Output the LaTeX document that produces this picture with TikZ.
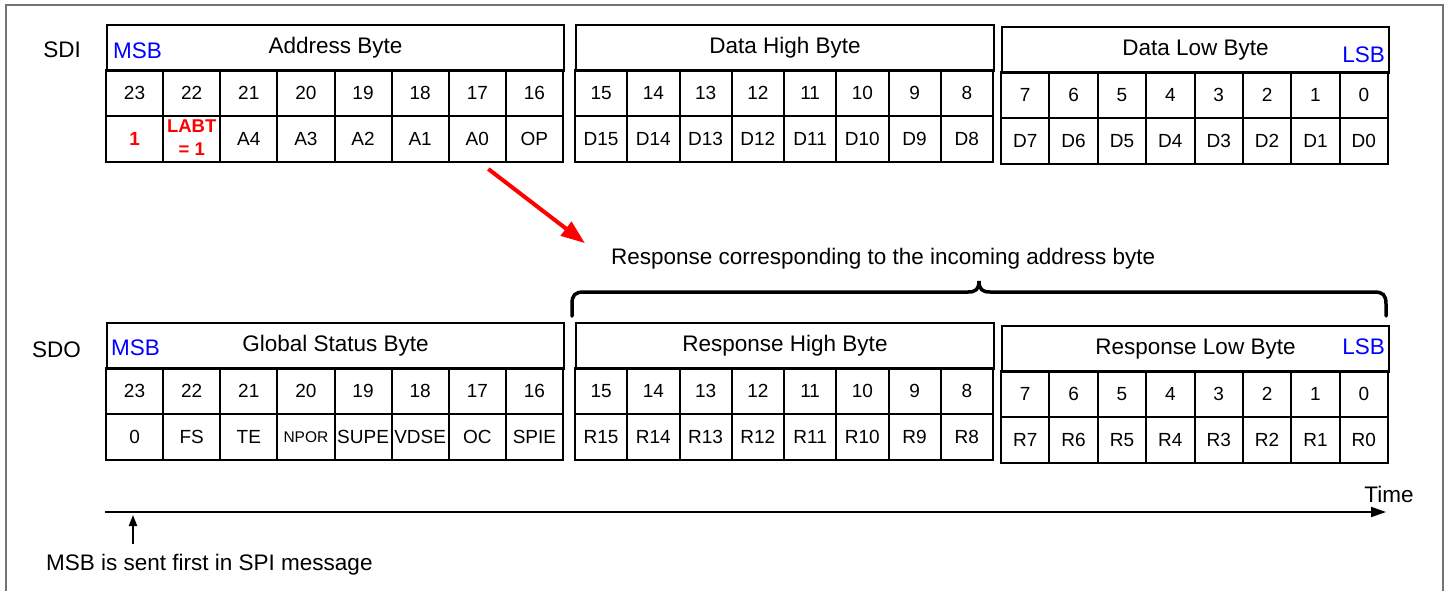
\documentclass[tikz,border=0pt]{standalone}
\usepackage{fontspec}
\setmainfont{Liberation Sans}
\usetikzlibrary{arrows.meta,positioning,calc}
\definecolor{hot}{RGB}{255,0,0}
\definecolor{msbblue}{RGB}{0,0,255}
\newcommand{\hdfont}{\fontsize{22.5}{27}\selectfont}
\newcommand{\cellfont}{\fontsize{19}{23}\selectfont}
\newcommand{\redone}{\bfseries\color{hot}1}
\newcommand{\labt}{\fontsize{18.5}{23}\selectfont\bfseries\color{hot}\begin{tabular}{@{}c@{}}LABT\\= 1\end{tabular}}
\newcommand{\npor}{\fontsize{15.5}{18}\selectfont NPOR}
% one row of eight bit cells: name, left x, centre y, cell width, texts
\newcommand{\bitrow}[5]{%
  \foreach \txt [count=\i] in {#5}
    \node[cell,minimum width=#4pt] (#1-\i) at ({#2+(\i-0.5)*#4},#3) {\txt};%
}
\tikzset{
  cell/.style={draw,line width=2pt,inner sep=0pt,minimum height=46pt,align=center,font=\cellfont},
  head/.style={draw,line width=2pt,inner sep=0pt,minimum height=46pt,anchor=north west,font=\hdfont},
  lbl/.style={inner sep=0pt,font=\hdfont},
  bitend/.style={lbl,text=msbblue},
  frame/.style={draw=black!55,line width=1.5pt},
  timeline/.style={line width=2pt,-{Triangle[length=15pt,width=10pt]}},
  upmark/.style={line width=2pt,-{Triangle[length=11pt,width=8pt]},shorten >=3pt},
  hotarrow/.style={hot,line width=4pt,-{Triangle[length=24pt,width=17pt]}},
  curly/.style={line width=3.5pt,line cap=round},
}

\begin{document}
\begin{tikzpicture}[x=1pt,y=-1pt]
  \useasboundingbox (0,0) rectangle (1449,590);
  % frame
  \draw[frame] (6,600) -- (6,5) -- (1443,5) -- (1443,600);

  % SDI
  \node[lbl,anchor=base east] (sdi) at (81,57) {SDI};
  \node[head,minimum width=457pt] (addr) at (106,24) {Address Byte};
  \node[bitend,anchor=west] (msbI) at ($(addr.west)+(7,2.5)$) {MSB};
  \bitrow{addrbit}{106}{93}{57.125}{23,22,...,16}
  \bitrow{addrval}{106}{139}{57.125}{\redone,\labt,A4,A3,A2,A1,A0,OP}
  \node[head,minimum width=418pt] (dhigh) at (575,24) {Data High Byte};
  \bitrow{dhbit}{575}{93}{52.25}{15,14,...,8}
  \bitrow{dhval}{575}{139}{52.25}{D15,D14,D13,D12,D11,D10,D9,D8}
  \node[head,minimum width=387pt] (dlow) at (1001,26) {Data Low Byte};
  \node[bitend,anchor=east] (lsbI) at ($(dlow.east)+(-5,4.5)$) {LSB};
  \bitrow{dlbit}{1001}{95}{48.375}{7,6,...,0}
  \bitrow{dlval}{1001}{141}{48.375}{D7,D6,D5,D4,D3,D2,D1,D0}

  % response note
  \node[lbl,anchor=base west] (resp) at (611,264) {Response corresponding to the incoming address byte};
  \draw[hotarrow] ($(addrval-7.south)+(11,6)$) -- ($(resp.west)+(-26,-15)$);
  \draw[curly] (572,316) -- (572,304) .. controls (572,295) and (575,292) .. (584,292)
    -- (968,292) .. controls (976,292) and (979,289) .. (979,281)
    .. controls (979,289) and (982,292) .. (990,292)
    -- (1374,292) .. controls (1383,292) and (1386,295) .. (1386,304) -- (1386,316);

  % SDO
  \node[lbl,anchor=base east] (sdo) at (81,357) {SDO};
  \node[head,minimum width=457pt] (stat) at (106,322) {Global Status Byte};
  \node[bitend,anchor=west] (msbO) at ($(stat.west)+(5,2)$) {MSB};
  \bitrow{statbit}{106}{391}{57.125}{23,22,...,16}
  \bitrow{statval}{106}{437}{57.125}{0,FS,TE,\npor,SUPE,VDSE,OC,SPIE}
  \node[head,minimum width=418pt] (rhigh) at (575,322) {Response High Byte};
  \bitrow{rhbit}{575}{391}{52.25}{15,14,...,8}
  \bitrow{rhval}{575}{437}{52.25}{R15,R14,R13,R12,R11,R10,R9,R8}
  \node[head,minimum width=387pt] (rlow) at (1001,325) {Response Low Byte};
  \node[bitend,anchor=east] (lsbO) at ($(rlow.east)+(-5,-2)$) {LSB};
  \bitrow{rlbit}{1001}{394}{48.375}{7,6,...,0}
  \bitrow{rlval}{1001}{440}{48.375}{R7,R6,R5,R4,R3,R2,R1,R0}

  % time
  \coordinate (t0) at (105,512);
  \coordinate (t1) at (1386,512);
  \draw[timeline] (t0) -- (t1);
  \node[lbl] (time) at (1389,494) {Time};
  \node[lbl,anchor=base west] (note) at (46,570) {MSB is sent first in SPI message};
  \coordinate (tick) at (133,544);
  \draw[upmark] (tick) -- (tick |- t0);
\end{tikzpicture}
\end{document}
